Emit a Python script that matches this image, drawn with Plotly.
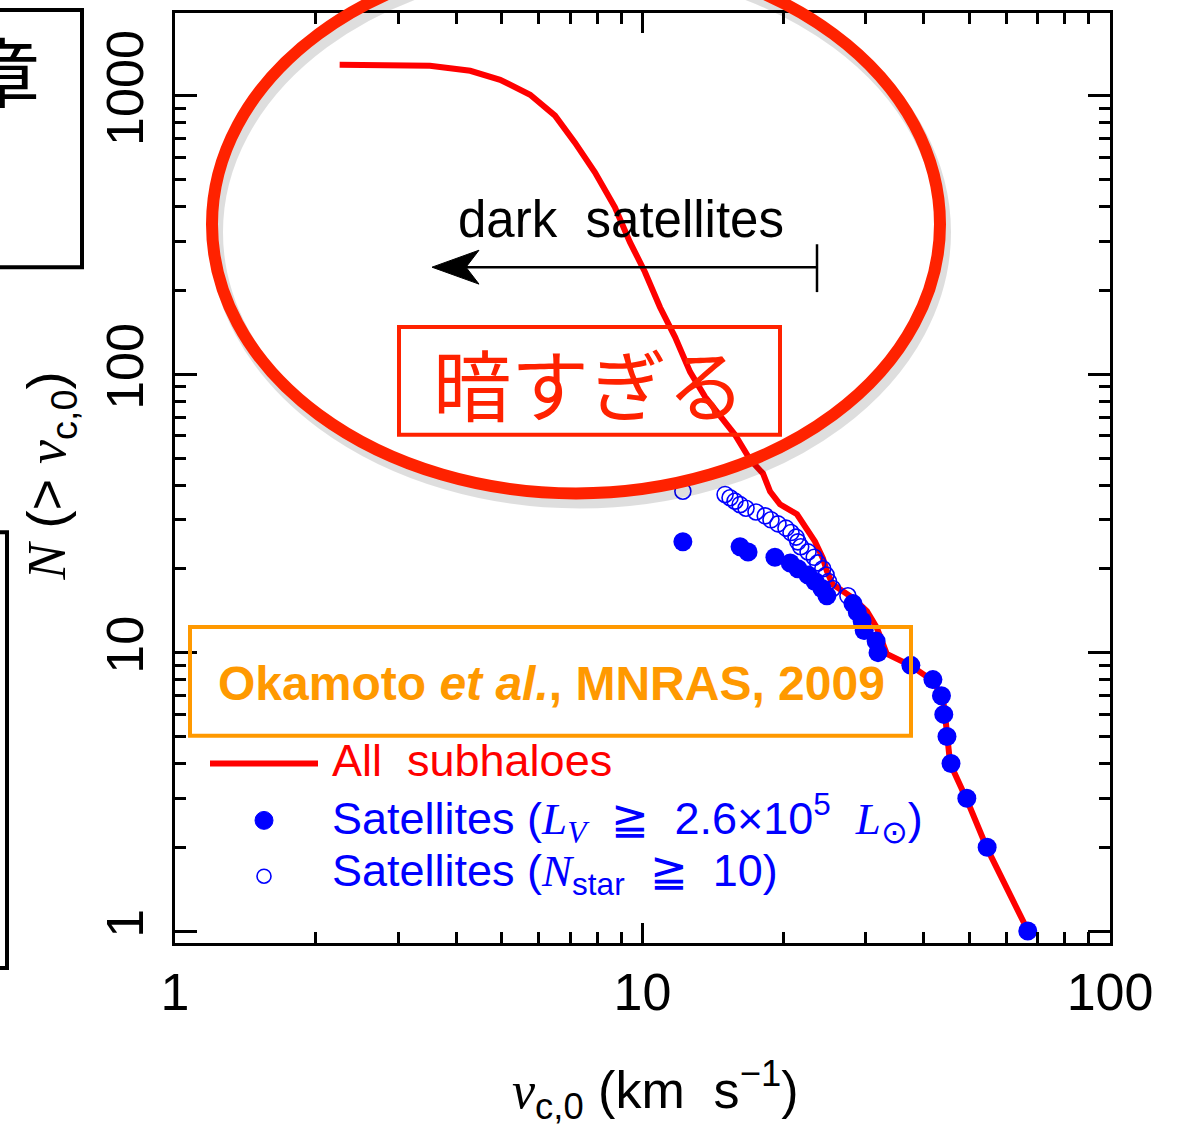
import plotly.graph_objects as go

# ---------------- data ----------------
subhalo_v = [2.25, 3.51, 4.28, 4.96, 5.75, 6.50, 7.17, 7.91, 8.73, 9.40, 10.12, 10.90,
             11.74, 12.64, 13.61, 14.65, 15.77, 16.98, 18.1, 18.75, 19.68, 21.4, 22.48,
             23.38, 24.32, 24.8, 25.5, 26.8, 28.2, 30.2, 31.7, 33.3, 37.4, 41.8, 43.9,
             44.4, 45.0, 45.5, 49.5, 54.6, 66.8]
subhalo_N = [1292, 1282, 1230, 1142, 1009, 849, 679, 531, 398, 298, 233, 174,
             136, 102, 83, 70.4, 60.6, 49.4, 44.0, 37.9, 34.1, 31.4, 27.9,
             25.1, 21.8, 19.6, 17.6, 16.6, 15.7, 14.1, 12.3, 9.9, 9.0, 7.92, 6.89,
             5.93, 4.95, 4.0, 2.94, 1.98, 1.0]

bright_v = [12.2, 16.17, 16.82, 19.2, 20.7, 21.5, 22.6, 23.4, 24.2, 24.8, 28.2, 28.8,
            29.5, 29.8, 31.6, 31.9, 37.5, 41.8, 43.6, 44.1, 44.8, 45.7, 49.4, 54.6, 66.7]
bright_N = [25, 24, 23, 22, 21, 20, 19, 18, 17, 16, 15, 14,
            13, 12, 11, 10, 9, 8, 7, 6, 5, 4, 3, 2, 1]

nstar_v = [12.2, 15.02, 15.39, 15.77, 16.17, 16.65, 17.49, 18.3, 18.83, 19.49, 20.27,
           20.78, 21.3, 21.5, 21.8, 22.6, 23.3, 23.7, 24.3, 24.7, 25.0, 25.5, 27.5,
           28.2, 28.8, 29.5, 29.8, 31.6, 31.9, 37.5, 41.8, 43.6, 44.1, 44.8, 45.7,
           49.4, 54.6, 66.7]
nstar_N = [38, 37, 36, 35, 34, 33, 32, 31, 30, 29, 28,
           27, 26, 25, 24, 23, 22, 21, 20, 19, 18, 17, 16,
           15, 14, 13, 12, 11, 10, 9, 8, 7, 6, 5, 4,
           3, 2, 1]

x_major = [1, 10, 100]
x_major_text = ["1", "10", "100"]
x_minor = [2, 3, 4, 5, 6, 7, 8, 9, 20, 30, 40, 50, 60, 70, 80, 90]
y_major = [1, 10, 100, 1000]
y_major_text = ["1", "10", "100", "1000"]
y_minor = [2, 3, 4, 5, 6, 7, 8, 9, 20, 30, 40, 50, 60, 70, 80, 90,
           200, 300, 400, 500, 600, 700, 800, 900]

# ---------------- layout helpers ----------------
W, H = 1181, 1127
L, R, T, B = 175, 1110, 10, 943
PW, PH = R - L, B - T


def px(x):
    return (x - L) / PW


def py(y):
    return (B - y) / PH


THIN = "Liberation Sans, Arial, sans-serif"
SERIF = "Liberation Serif, DejaVu Serif, serif"
RED2 = "#FF2200"
ORANGE = "#FF9900"
BLUE = "#0000FF"

fig = go.Figure()
fig.add_trace(go.Scatter(x=subhalo_v, y=subhalo_N, mode="lines",
                         line=dict(color="#FF0000", width=6), showlegend=False,
                         hoverinfo="skip"))
fig.add_trace(go.Scatter(x=nstar_v, y=nstar_N, mode="markers",
                         marker=dict(symbol="circle-open", size=16, color=BLUE,
                                     line=dict(width=1.6, color=BLUE)),
                         showlegend=False))
fig.add_trace(go.Scatter(x=bright_v, y=bright_N, mode="markers",
                         marker=dict(symbol="circle", size=19, color=BLUE),
                         showlegend=False))

shapes = []
# ellipse shadow + ellipse
cx0, cx1, cy0, cy1 = 212, 940, -48, 492
shapes.append(dict(type="circle", xref="paper", yref="paper",
                   x0=px(cx0 + 4), x1=px(cx1 + 4), y0=py(cy1 + 8), y1=py(cy0 + 8),
                   line=dict(color="rgba(0,0,0,0.13)", width=14), layer="above"))
shapes.append(dict(type="circle", xref="paper", yref="paper",
                   x0=px(cx0), x1=px(cx1), y0=py(cy1), y1=py(cy0),
                   line=dict(color=RED2, width=12), layer="above"))
# red box
shapes.append(dict(type="rect", xref="paper", yref="paper",
                   x0=px(399), x1=px(780), y0=py(433), y1=py(325),
                   line=dict(color=RED2, width=4), layer="above"))
# orange box
shapes.append(dict(type="rect", xref="paper", yref="paper",
                   x0=px(190), x1=px(911), y0=py(735), y1=py(626),
                   line=dict(color=ORANGE, width=4), layer="above"))
# cropped black boxes at left
shapes.append(dict(type="rect", xref="paper", yref="paper",
                   x0=px(-30), x1=px(82), y0=py(265), y1=py(7),
                   line=dict(color="black", width=4), layer="above"))
shapes.append(dict(type="rect", xref="paper", yref="paper",
                   x0=px(-30), x1=px(7), y0=py(968), y1=py(531),
                   line=dict(color="black", width=4), layer="above"))
# arrow
shapes.append(dict(type="line", xref="paper", yref="paper",
                   x0=px(460), x1=px(817), y0=py(265), y1=py(265),
                   line=dict(color="black", width=2.5), layer="above"))
shapes.append(dict(type="line", xref="paper", yref="paper",
                   x0=px(817), x1=px(817), y0=py(242), y1=py(290),
                   line=dict(color="black", width=2.5), layer="above"))
head = [(432, 265), (479, 248), (466, 265), (479, 282)]
path = "M " + " L ".join(f"{px(a):.5f},{py(b):.5f}" for a, b in head) + " Z"
shapes.append(dict(type="path", xref="paper", yref="paper", path=path,
                   fillcolor="black", line=dict(color="black", width=1), layer="above"))
# legend samples
shapes.append(dict(type="line", xref="paper", yref="paper",
                   x0=px(210), x1=px(318), y0=py(763), y1=py(763),
                   line=dict(color="#FF0000", width=6), layer="above"))
shapes.append(dict(type="circle", xref="paper", yref="paper",
                   x0=px(255), x1=px(273), y0=py(829), y1=py(811),
                   fillcolor=BLUE, line=dict(color=BLUE, width=1), layer="above"))
shapes.append(dict(type="circle", xref="paper", yref="paper",
                   x0=px(257), x1=px(271), y0=py(883), y1=py(869),
                   line=dict(color=BLUE, width=1.6), layer="above"))

ann = []


def text(x, y, s, size, color="black", family=THIN, xanchor="center", angle=0):
    ann.append(dict(x=px(x), y=py(y), xref="paper", yref="paper", text=s,
                    showarrow=False, xanchor=xanchor, yanchor="middle",
                    textangle=angle, font=dict(size=size, color=color, family=family)))


def it(s):
    return f"<span style='font-family:Liberation Serif'><i>{s}</i></span>"


text(621, 217, "dark&nbsp;&nbsp;satellites", 51)
text(589, 380, "暗すぎる", 78, RED2, "Noto Sans CJK JP")
text(551, 683, "<b>Okamoto <i>et al.</i>, MNRAS, 2009</b>", 48, ORANGE,
     "Liberation Sans, Arial, sans-serif")
text(330, 760, "All&nbsp;&nbsp;subhaloes", 45, "#FF0000", xanchor="left")
text(330, 818,
     "Satellites&nbsp;(" + it("L") + "<sub>" + it("V") + "</sub>&nbsp;&nbsp;≧&nbsp;&nbsp;2.6×10<sup>5</sup>&nbsp;&nbsp;"
     + it("L") + "<sub>⊙</sub>)",
     45, BLUE, xanchor="left")
text(330, 873,
     "Satellites&nbsp;(" + it("N") + "<sub>star</sub>&nbsp;&nbsp;≧&nbsp;&nbsp;10)", 45, BLUE,
     xanchor="left")
text(655, 1090,
     it("v") + "<sub>c,0</sub>&nbsp;(km&nbsp;&nbsp;s<sup>−1</sup>)",
     52)
text(50, 475,
     it("N") + "&nbsp;(>&nbsp;" + it("v") + "<sub>c,0</sub>)",
     54, angle=-90)
text(2, 66, "章", 76, "black", "Noto Sans CJK JP")

axis_common = dict(showline=True, linewidth=3, linecolor="black", mirror="allticks",
                   ticks="inside", tickcolor="black", tickwidth=2.5, showgrid=False,
                   zeroline=False, tickfont=dict(size=52, family=THIN, color="black"))

fig.update_layout(
    width=W, height=H,
    margin=dict(l=L, r=W - R, t=T, b=H - B),
    plot_bgcolor="white", paper_bgcolor="white",
    xaxis=dict(type="log", range=[0, 2], tickvals=x_major, ticktext=x_major_text,
               ticklen=20, ticklabelstandoff=2,
               minor=dict(tickvals=x_minor, ticklen=11, tickwidth=2.5, ticks="inside",
                          tickcolor="black", showgrid=False),
               **axis_common),
    yaxis=dict(type="log", range=[-0.043, 3.2975], tickvals=y_major, ticktext=y_major_text,
               ticklen=22, tickangle=-90, ticklabelstandoff=8,
               minor=dict(tickvals=y_minor, ticklen=11, tickwidth=2.5, ticks="inside",
                          tickcolor="black", showgrid=False),
               **axis_common),
    shapes=shapes, annotations=ann, showlegend=False,
)

fig.write_html("out.html")
